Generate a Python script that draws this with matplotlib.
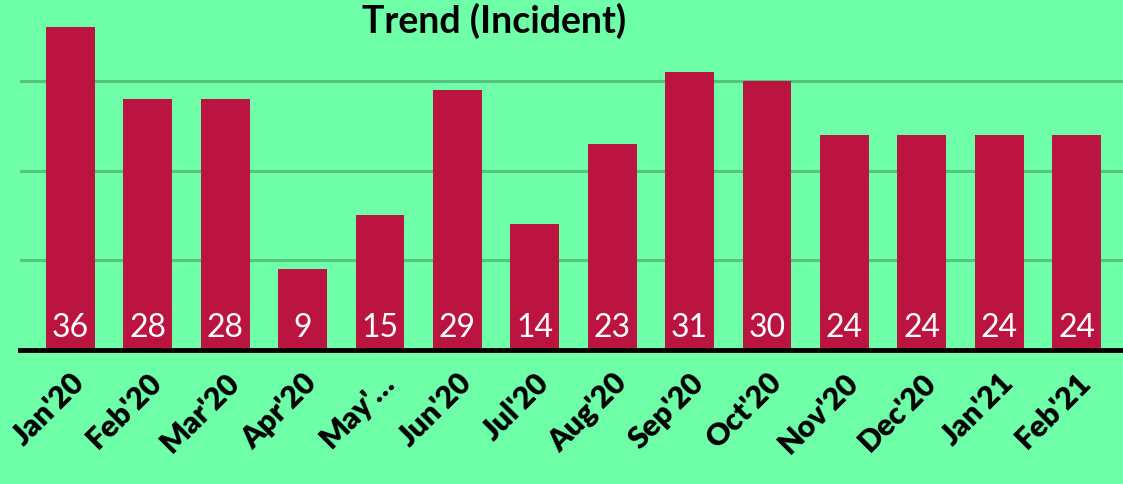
import numpy as np
import matplotlib
matplotlib.use('Agg')
import matplotlib.pyplot as plt

# Data
months = ["Jan'20", "Feb'20", "Mar'20", "Apr'20", "May'\u2026", "Jun'20", "Jul'20",
          "Aug'20", "Sep'20", "Oct'20", "Nov'20", "Dec'20", "Jan'21", "Feb'21"]
incidents = [36, 28, 28, 9, 15, 29, 14, 23, 31, 30, 24, 24, 24, 24]

bg_color = '#6effa8'
bar_color = '#bc1440'
grid_color = '#55c47f'

plt.rcParams['font.family'] = ['Lato', 'DejaVu Sans']

fig = plt.figure(figsize=(11.23, 4.84), dpi=100, facecolor=bg_color)
ax = fig.add_axes([20 / 1123, 134 / 484, 1103 / 1123, 350 / 484])
ax.set_facecolor(bg_color)

x = np.arange(len(months))
bars = ax.bar(x, incidents, width=0.63, color=bar_color, zorder=3)

# value labels at bottom of each bar
for xi, v in zip(x, incidents):
    ax.annotate(str(v), (xi, 0), xytext=(0, 9.5), textcoords='offset points',
                ha='center', va='baseline', color='white', fontsize=23, zorder=4)

ax.set_xlim(-0.65, 13.6)
ax.set_ylim(0, 39)
ax.set_yticks([10, 20, 30])
ax.yaxis.grid(True, color=grid_color, linewidth=2.2, zorder=0)
ax.tick_params(axis='y', left=False, labelleft=False)
ax.axhline(0, color='black', linewidth=3.5, zorder=5, clip_on=False)

ax.set_xticks(x)
ax.set_xticklabels(months, rotation=45, ha='right', rotation_mode='anchor',
                   fontsize=22, fontweight='heavy')
ax.tick_params(axis='x', length=0, pad=13)

for s in ax.spines.values():
    s.set_visible(False)

fig.text(494 / 1123, 1 - 21 / 484, 'Trend (Incident)', ha='center', va='center',
         fontsize=27, fontweight='bold')

fig.savefig('out.png', dpi=100, facecolor=bg_color)
